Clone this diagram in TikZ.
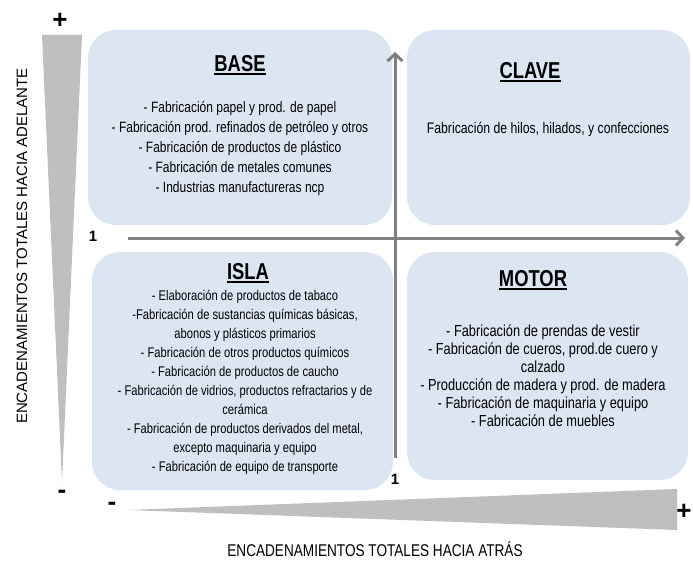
\documentclass[tikz,border=0pt]{standalone}
\usepackage{fontspec}
\setmainfont{Liberation Sans}
\newfontfamily\narrowfont[FakeStretch=0.8]{Liberation Sans}
\usetikzlibrary{arrows.meta}

\definecolor{boxblue}{RGB}{220,230,242}
\definecolor{axisgray}{RGB}{128,128,128}
\definecolor{wedgegray}{RGB}{191,191,191}

\newcommand{\ultitle}[1]{\setbox0\hbox{#1}\rlap{\rule[-3pt]{\wd0}{2pt}}\box0}

\tikzset{
  quadrant/.style={fill=boxblue, rounded corners=28pt, inner sep=0pt},
  title/.style={font=\narrowfont\bfseries\fontsize{23}{23}\selectfont},
  items/.style={align=center, font=\narrowfont\fontsize{15}{20}\selectfont},
  axis/.style={draw=axisgray, line width=3pt, -{Straight Barb[length=7pt,width=15pt]}},
  sign/.style={font=\bfseries\fontsize{26}{26}\selectfont},
  one/.style={font=\bfseries\fontsize{15}{15}\selectfont},
  axislabel/.style={font=\narrowfont\fontsize{17}{17}\selectfont}
}

\begin{document}
\begin{tikzpicture}[x=1pt, y=-1pt]
  \useasboundingbox (0,0) rectangle (693,564);

  \begin{scope}[every node/.style={quadrant}]
    \node[minimum width=304pt, minimum height=195pt] (base)  at (240,127.5)   {};
    \node[minimum width=283pt, minimum height=195pt] (clave) at (548.5,127.5) {};
    \node[minimum width=301pt, minimum height=238pt] (isla)  at (242.5,371)   {};
    \node[minimum width=281pt, minimum height=228pt] (motor) at (547.5,366)   {};
  \end{scope}

  \fill[wedgegray] (42,35) -- (82,35) -- (62,482) -- cycle;
  \fill[wedgegray] (128,510) -- (677,489) -- (677,530) -- cycle;

  \coordinate (vbot)   at (395,458);
  \coordinate (vtop)   at (395,52);
  \coordinate (hleft)  at (128,238);
  \coordinate (hright) at (685,238);
  \draw[axis] (vbot) -- (vtop);
  \draw[axis] (hleft) -- (hright);

  \begin{scope}[every node/.style={title}]
    \node (baset)  at (240,65)  {\ultitle{BASE}};
    \node (clavet) at (530,72)  {\ultitle{CLAVE}};
    \node (islat)  at (248,273) {\ultitle{ISLA}};
    \node (motort) at (533,280) {\ultitle{MOTOR}};
  \end{scope}

  \node[items] (basei) at (240,148.7) {- Fabricación papel y prod. de papel\\
    - Fabricación prod. refinados de petróleo y otros\\
    - Fabricación de productos de plástico\\
    - Fabricación de metales comunes\\
    - Industrias manufactureras ncp};
  \node[items, font=\narrowfont\fontsize{15.3}{20}\selectfont] (clavei) at (548,129) {Fabricación de hilos, hilados, y confecciones};
  \node[items, font=\narrowfont\fontsize{14}{19}\selectfont] (islai) at (245,382.5) {- Elaboración de productos de tabaco\\
    -Fabricación de sustancias químicas básicas,\\
    abonos y plásticos primarios\\
    - Fabricación de otros productos químicos\\
    - Fabricación de productos de caucho\\
    - Fabricación de vidrios, productos refractarios y de\\
    cerámica\\
    - Fabricación de productos derivados del metal,\\
    excepto maquinaria y equipo\\
    - Fabricación de equipo de transporte};
  \node[items, font=\narrowfont\fontsize{16}{18}\selectfont] (motori) at (543,376) {- Fabricación de prendas de vestir\\
    - Fabricación de cueros, prod.de cuero y\\
    calzado\\
    - Producción de madera y prod. de madera\\
    - Fabricación de maquinaria y equipo\\
    - Fabricación de muebles};

  \node[one] (onev) at (93,236)  {1};
  \node[one] (oneh) at (395,479) {1};

  \begin{scope}[every node/.style={sign}]
    \node (vplus)  at (60,21)  {+};
    \node (vminus) at (62,494) {-};
    \node (hminus) at (112,506) {-};
    \node (hplus)  at (684,512) {+};
  \end{scope}

  \node[rotate=90, font=\fontsize{15}{15}\selectfont] (ylabel) at (22,246) {ENCADENAMIENTOS TOTALES HACIA ADELANTE};
  \node[axislabel] (xlabel) at (375,549) {ENCADENAMIENTOS TOTALES HACIA ATRÁS};
\end{tikzpicture}
\end{document}
